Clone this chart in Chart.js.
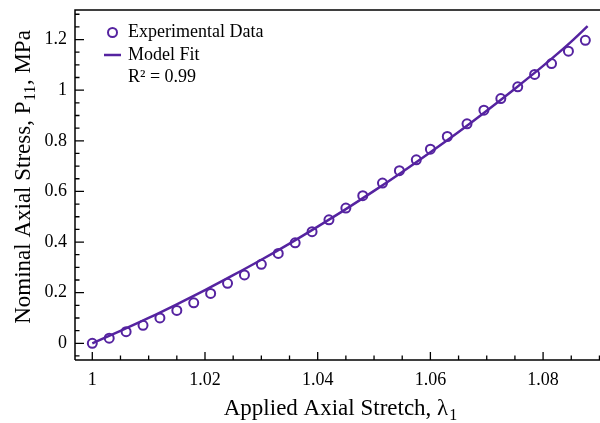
<!DOCTYPE html>
<html>
<head>
<meta charset="utf-8">
<script src="https://cdn.jsdelivr.net/npm/chart.js@4/dist/chart.umd.min.js"></script>
<style>
  html, body { margin: 0; padding: 0; background: #fff; }
  #wrap { width: 600px; height: 423px; }
</style>
</head>
<body>
<div id="wrap"><canvas id="chart1" width="600" height="423"></canvas></div>
<script>
// experimental points
const stretch = [1.000, 1.003, 1.006, 1.009, 1.012, 1.015, 1.018, 1.021, 1.024, 1.027,
                 1.030, 1.033, 1.036, 1.039, 1.042, 1.045, 1.048, 1.0515, 1.0545, 1.0575,
                 1.060, 1.063, 1.0665, 1.0695, 1.0725, 1.0755, 1.0785, 1.0815, 1.0845, 1.0875];
const stress = [0, 0.02, 0.046, 0.071, 0.1, 0.13, 0.16, 0.197, 0.237, 0.27,
                0.312, 0.355, 0.397, 0.441, 0.488, 0.534, 0.583, 0.633, 0.682, 0.725,
                0.767, 0.817, 0.867, 0.921, 0.967, 1.013, 1.062, 1.105, 1.154, 1.197];

// model fit curve
const fitStretch = [1.000, 1.005, 1.010, 1.015, 1.020, 1.025, 1.030, 1.035, 1.040, 1.045,
                    1.050, 1.055, 1.060, 1.065, 1.070, 1.075, 1.080, 1.085, 1.0879];
const fitStress = [0, 0.049, 0.100, 0.154, 0.210, 0.269, 0.330, 0.394, 0.461, 0.530,
                   0.602, 0.677, 0.755, 0.835, 0.919, 1.006, 1.096, 1.192, 1.253];

const xTicks = [1, 1.02, 1.04, 1.06, 1.08];
const yTicks = [0, 0.2, 0.4, 0.6, 0.8, 1, 1.2];

const purple = '#5523a0';
const serif = '"Liberation Serif", "Times New Roman", serif';

function fmt(v) { return String(Number(v.toFixed(3))); }

// frame, inward ticks, titles and legend
const decor = {
    id: 'decor',
    afterDraw(c) {
        const ctx = c.ctx, a = c.chartArea;
        const xs = c.scales.x, ys = c.scales.y;
        ctx.save();
        ctx.strokeStyle = '#000';
        ctx.lineWidth = 1.5;
        ctx.beginPath();
        ctx.moveTo(a.left, a.bottom);
        ctx.lineTo(a.left, a.top);
        ctx.lineTo(a.right, a.top);
        ctx.moveTo(a.left, a.bottom);
        ctx.lineTo(a.right, a.bottom);
        ctx.stroke();

        // x ticks (major + minor every 0.005)
        ctx.lineWidth = 1.3;
        ctx.beginPath();
        for (let i = 0; i <= 20; i++) {
            const v = 0.995 + i * 0.005;
            const px = xs.getPixelForValue(v);
            if (px < a.left + 1 || px > a.right) continue;
            const major = xTicks.some(t => Math.abs(t - v) < 1e-6);
            const len = major ? 8 : 4.5;
            ctx.moveTo(px, a.bottom);
            ctx.lineTo(px, a.bottom - len);
        }
        // y ticks (major + minor every 0.05)
        for (let i = 0; i <= 30; i++) {
            const v = -0.05 + i * 0.05;
            const py = ys.getPixelForValue(v);
            if (py < a.top + 1 || py > a.bottom - 1) continue;
            const major = yTicks.some(t => Math.abs(t - v) < 1e-6);
            const len = major ? 9 : 4.5;
            ctx.moveTo(a.left, py);
            ctx.lineTo(a.left + len, py);
        }
        ctx.stroke();

        // axis titles
        ctx.fillStyle = '#000';
        ctx.textBaseline = 'alphabetic';
        const big = '23px ' + serif, small = '16px ' + serif;

        // x title
        const xt1 = 'Applied Axial Stretch, \u03bb', xt2 = '1';
        ctx.font = big;
        const w1 = ctx.measureText(xt1).width;
        ctx.font = small;
        const w2 = ctx.measureText(xt2).width;
        let x0 = 340 - (w1 + w2) / 2;
        ctx.font = big;
        ctx.fillText(xt1, x0, 415);
        ctx.font = small;
        ctx.fillText(xt2, x0 + w1 + 1, 420);

        // y title (rotated)
        const yt1 = 'Nominal Axial Stress, P', yt2 = '11', yt3 = ', MPa';
        ctx.font = big;
        const a1 = ctx.measureText(yt1).width, a3 = ctx.measureText(yt3).width;
        ctx.font = small;
        const a2 = ctx.measureText(yt2).width;
        ctx.translate(30, 177);
        ctx.rotate(-Math.PI / 2);
        let s = -(a1 + a2 + a3 + 1) / 2;
        ctx.font = big;
        ctx.fillText(yt1, s, 0);
        ctx.font = small;
        ctx.fillText(yt2, s + a1 + 0.5, 5);
        ctx.font = big;
        ctx.fillText(yt3, s + a1 + a2 + 1, 0);
        ctx.setTransform(1, 0, 0, 1, 0, 0);

        // legend
        ctx.strokeStyle = purple;
        ctx.lineWidth = 2;
        ctx.beginPath();
        ctx.arc(112.5, 32.5, 4.5, 0, Math.PI * 2);
        ctx.stroke();
        ctx.lineWidth = 2.5;
        ctx.beginPath();
        ctx.moveTo(104, 55);
        ctx.lineTo(121, 55);
        ctx.stroke();
        ctx.fillStyle = '#000';
        ctx.font = '18px ' + serif;
        ctx.textBaseline = 'middle';
        ctx.fillText('Experimental Data', 128, 32);
        ctx.fillText('Model Fit', 128, 55);
        ctx.fillText('R\u00b2 = 0.99', 128, 77);
        ctx.restore();
    }
};

const cfg = {
    type: 'scatter',
    data: {
        datasets: [{
            label: 'Experimental Data',
            data: stretch.map((x, i) => ({ x: x, y: stress[i] })),
            pointStyle: 'circle',
            pointRadius: 4.5,
            pointBorderWidth: 2,
            pointBackgroundColor: 'rgba(0,0,0,0)',
            pointBorderColor: purple,
            showLine: false
        }, {
            label: 'Model Fit',
            data: fitStretch.map((x, i) => ({ x: x, y: fitStress[i] })),
            showLine: true,
            pointRadius: 0,
            borderColor: purple,
            borderWidth: 2.5,
            cubicInterpolationMode: 'monotone'
        }]
    },
    options: {
        responsive: false,
        animation: false,
        events: [],
        layout: { autoPadding: false, padding: { top: 10, right: 0, left: 0, bottom: 0 } },
        plugins: { legend: { display: false }, tooltip: { enabled: false } },
        scales: {
            x: {
                type: 'linear',
                min: 0.99693,
                max: 1.0901,
                afterFit(s) { s.height = 63; s.paddingLeft = 0; s.paddingRight = 0; },
                afterBuildTicks(s) { s.ticks = xTicks.map(v => ({ value: v })); },
                grid: { display: false, drawTicks: false },
                border: { display: false },
                ticks: {
                    color: '#000',
                    padding: 9,
                    maxRotation: 0,
                    font: { family: serif, size: 18 },
                    callback: v => fmt(v)
                }
            },
            y: {
                type: 'linear',
                min: -0.066,
                max: 1.3167,
                afterFit(s) { s.width = 75; s.paddingTop = 0; s.paddingBottom = 0; },
                afterBuildTicks(s) { s.ticks = yTicks.map(v => ({ value: v })); },
                grid: { display: false, drawTicks: false },
                border: { display: false },
                ticks: {
                    color: '#000',
                    padding: 8,
                    font: { family: serif, size: 18 },
                    callback: v => fmt(v)
                }
            }
        }
    },
    plugins: [decor]
};

chart = document.getElementById('chart1');
new Chart(chart, cfg);
</script>
</body>
</html>
